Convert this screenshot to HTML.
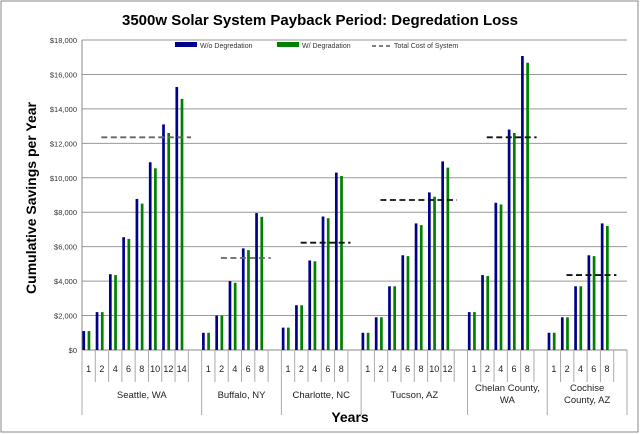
<!DOCTYPE html>
<html><head><meta charset="utf-8"><style>
body{margin:0;background:#fff;}
svg{display:block;font-family:"Liberation Sans",sans-serif;}
</style></head><body>
<svg id="chart" width="640" height="434">
<rect x="1" y="1" width="637" height="431" fill="#fff" stroke="#888" stroke-width="1"/>
<text x="320" y="25" text-anchor="middle" font-size="15" font-weight="bold">3500w Solar System Payback Period: Degredation Loss</text>
<text transform="translate(36,198) rotate(-90)" text-anchor="middle" font-size="14" font-weight="bold">Cumulative Savings per Year</text>
<text x="350" y="422" text-anchor="middle" font-size="14" font-weight="bold">Years</text>
<g id="grid"></g><g id="bars"></g><g id="xaxis"></g><g id="costs"></g>
<g>
<rect x="175" y="42" width="22" height="5" fill="#00008b"/>
<text x="200" y="48" font-size="7" fill="#333">W/o Degredation</text>
<rect x="277" y="42" width="22" height="5" fill="#008000"/>
<text x="302" y="48" font-size="7" fill="#333">W/ Degradation</text>
<line x1="372" y1="46" x2="392" y2="46" stroke="#555" stroke-width="1.5" stroke-dasharray="4,3"/>
<text x="394" y="48" font-size="7" fill="#333">Total Cost of System</text>
</g>
</svg>
<script>
const groups=["Seattle, WA","Buffalo, NY","Charlotte, NC","Tucson, AZ","Chelan County, WA","Cochise County, AZ"];
const years=[[1,2,4,6,8,10,12,14],[1,2,4,6,8],[1,2,4,6,8],[1,2,4,6,8,10,12],[1,2,4,6,8],[1,2,4,6,8]];
const withoutDeg=[[1100,2200,4400,6550,8770,10900,13100,15270],[1000,2000,4000,5900,7950],[1300,2600,5200,7750,10300],[1000,1900,3700,5500,7350,9150,10950],[2200,4350,8550,12800,17070],[1000,1900,3700,5500,7350]];
const withDeg=[[1100,2200,4350,6450,8500,10550,12600,14580],[1000,2000,3900,5800,7730],[1300,2600,5150,7650,10100],[1000,1900,3700,5450,7250,8900,10590],[2200,4300,8450,12600,16680],[1000,1900,3700,5450,7200]];
const costs=[12350,5340,6230,8710,12350,4350];
const yTicks=[0,2000,4000,6000,8000,10000,12000,14000,16000,18000];
const NS="http://www.w3.org/2000/svg";
const X0=82,X1=627,Y0=350,Y1=40,YMAX=18000;
let totalSlots=0;years.forEach(y=>totalSlots+=y.length+1);
const slotW=(X1-X0)/totalSlots;
const yS=v=>Y0-v*(Y0-Y1)/YMAX;
const xS=s=>X0+s*slotW;
function mk(tag,attrs,parent){const e=document.createElementNS(NS,tag);for(const k in attrs)e.setAttribute(k,attrs[k]);parent.appendChild(e);return e;}
const grid=document.getElementById('grid'),bars=document.getElementById('bars'),xa=document.getElementById('xaxis'),cg=document.getElementById('costs');
yTicks.forEach(t=>{
 const l=mk('line',{x1:X0,x2:X1,y1:yS(t),y2:yS(t),stroke:t===0?'#888':'#999','stroke-width':1},grid);
 
 
 const tx=mk('text',{x:77,y:yS(t)+3,'text-anchor':'end','font-size':7.5,fill:'#333'},grid);
 tx.textContent='$'+t.toLocaleString('en-US');
 
 
});
const ax=mk('line',{x1:X0,x2:X0,y1:Y1,y2:Y0,stroke:'#888'},grid);


let s=0;
groups.forEach((g,gi)=>{
 const start=s,n=years[gi].length;
 const sep=mk('line',{x1:xS(start),x2:xS(start),y1:Y0,y2:415,stroke:'#aaa'},xa);
 
 
 for(let i=0;i<=n;i++){
  const x=xS(start+i);
  if(i>0){const tk=mk('line',{x1:x,x2:x,y1:Y0,y2:382,stroke:'#aaa'},xa);
   
   }
  if(i<n){
   const t=mk('text',{x:x+slotW/2,y:372,'text-anchor':'middle','font-size':9,fill:'#222'},xa);
   t.textContent=years[gi][i];
   
   
   const b=mk('rect',{x:x+0.4,y:yS(withoutDeg[gi][i]),width:2.7,height:Y0-yS(withoutDeg[gi][i]),fill:'#00008b'},bars);
   
   
   const b2=mk('rect',{x:x+5.6,y:yS(withDeg[gi][i]),width:2.7,height:Y0-yS(withDeg[gi][i]),fill:'#008000'},bars);
   
   
  }
 }
 const cx=(xS(start)+xS(start+n+1))/2;
 let parts=[g];
 if(g==="Chelan County, WA")parts=["Chelan County,","WA"];
 if(g==="Cochise County, AZ")parts=["Cochise","County, AZ"];
 parts.forEach((p,pi)=>{
  const t=mk('text',{x:cx,y:(parts.length>1?391+pi*12:398),'text-anchor':'middle','font-size':9.5,fill:'#222'},xa);
  t.textContent=p;
  
  
 });
 const c=mk('line',{x1:xS(start+1.45),x2:xS(start+n+0.2),y1:yS(costs[gi]),y2:yS(costs[gi]),stroke:gi<2?'#666':'#111','stroke-width':1.8,'stroke-dasharray':'6,3.5'},cg);
 
 
 s+=n+1;
});
const endSep=mk('line',{x1:X1,x2:X1,y1:Y0,y2:415,stroke:'#aaa'},xa);


</script>
</body></html>
